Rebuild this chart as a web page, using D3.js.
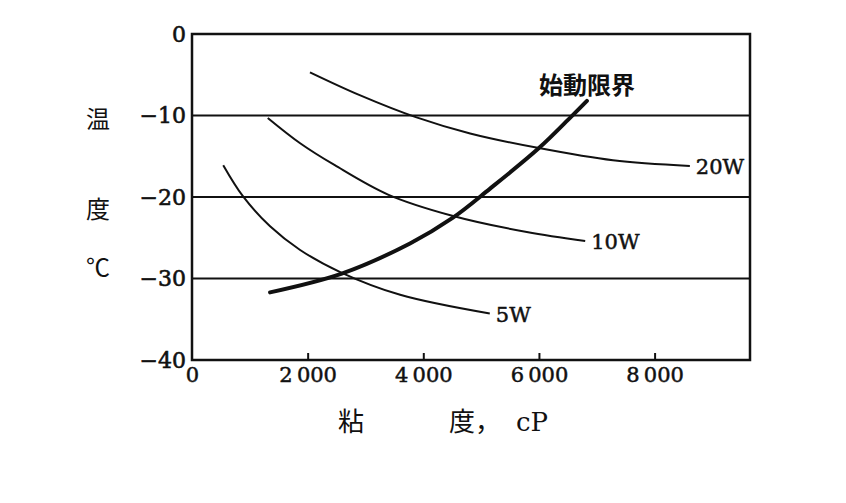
<!DOCTYPE html>
<html>
<head>
<meta charset="utf-8">
<script src="https://cdn.jsdelivr.net/npm/d3@7"></script>
<style>
  body { margin: 0; background: #fff; }
  svg { display: block; }
</style>
</head>
<body>
<div id="chart"></div>
<script>
const width = 846
const height = 503

// axis ticks
const xTicks = [0, 2000, 4000, 6000, 8000]
const yTicks = [0, -10, -20, -30, -40]
const gridTemps = [-10, -20, -30]

// oil grades: viscosity (cP) vs temperature (°C)
const seriesNames = ['20W', '10W', '5W']
const visc20W = [2040, 2900, 3870, 4810, 6000, 7280, 8610]
const temp20W = [-4.7, -7.5, -10.2, -12.2, -14.0, -15.5, -16.2]
const visc10W = [1310, 1870, 2470, 3390, 4500, 5790, 6800]
const temp10W = [-10.3, -13.4, -16.1, -19.7, -22.3, -24.3, -25.4]
const visc5W = [540, 880, 1350, 1870, 2590, 3600, 5150]
const temp5W = [-16.1, -19.9, -23.6, -26.5, -29.3, -32.0, -34.3]

// starting limit
const viscLimit = [1350, 2590, 3770, 4500, 5150, 6000, 6550, 6830]
const tempLimit = [-31.7, -29.4, -25.7, -22.6, -19.0, -14.0, -10.2, -8.2]
const limitLabel = '始動限界'

const x = d3.scaleLinear().domain([0, 9650]).range([192, 750])
const y = d3.scaleLinear().domain([0, -40]).range([34, 360])

const svg = d3.select('#chart')
  .append('svg')
  .attr('width', width)
  .attr('height', height)

const ink = '#111'
const numFont = '"DejaVu Serif", serif'
const jpFont = '"Noto Sans CJK JP", sans-serif'

// grid lines
svg.append('g')
  .selectAll('line')
  .data(gridTemps)
  .join('line')
  .attr('x1', x(0))
  .attr('x2', x.range()[1])
  .attr('y1', d => y(d))
  .attr('y2', d => y(d))
  .attr('stroke', ink)
  .attr('stroke-width', 2)

// frame
svg.append('rect')
  .attr('x', x(0))
  .attr('y', y(0))
  .attr('width', x.range()[1] - x(0))
  .attr('height', y(-40) - y(0))
  .attr('fill', 'none')
  .attr('stroke', ink)
  .attr('stroke-width', 2.5)

// x axis
const xAxis = d3.axisBottom(x)
  .tickValues(xTicks)
  .tickSizeInner(-7)
  .tickSizeOuter(0)
  .tickPadding(7)
  .tickFormat(d => d === 0 ? '0' : d3.format(',')(d).replace(',', '\u2009'))

const gx = svg.append('g')
  .attr('transform', `translate(0,${y(-40)})`)
  .call(xAxis)
gx.select('.domain').remove()
gx.selectAll('line').attr('stroke', ink).attr('stroke-width', 2)
  .filter(d => d === 0).remove()
gx.selectAll('text')
  .attr('font-family', numFont)
  .attr('font-size', 21)
  .attr('fill', ink)
  .attr('stroke', ink)
  .attr('stroke-width', 0.5)

// y axis
const yAxis = d3.axisLeft(y)
  .tickValues(yTicks)
  .tickSize(0)
  .tickPadding(6)
  .tickFormat(d => d === 0 ? '0' : '\u2212' + Math.abs(d))

const gy = svg.append('g')
  .attr('transform', `translate(${x(0)},0)`)
  .call(yAxis)
gy.select('.domain').remove()
gy.selectAll('text')
  .attr('font-family', numFont)
  .attr('font-size', 22)
  .attr('fill', ink)
  .attr('stroke', ink)
  .attr('stroke-width', 0.6)

// curves
const line = d3.line()
  .x(d => x(d[0]))
  .y(d => y(d[1]))
  .curve(d3.curveCatmullRom.alpha(0.5))

const grades = [
  { name: seriesNames[0], visc: visc20W, temp: temp20W },
  { name: seriesNames[1], visc: visc10W, temp: temp10W },
  { name: seriesNames[2], visc: visc5W, temp: temp5W }
]

grades.forEach(g => {
  const pts = d3.zip(g.visc, g.temp)
  svg.append('path')
    .attr('d', line(pts))
    .attr('fill', 'none')
    .attr('stroke', ink)
    .attr('stroke-width', 2)
  const last = pts[pts.length - 1]
  svg.append('text')
    .attr('x', x(last[0]) + 6)
    .attr('y', y(last[1]) + 8)
    .attr('font-family', numFont)
    .attr('font-size', 21)
    .attr('fill', ink)
    .attr('stroke', ink)
    .attr('stroke-width', 0.5)
    .text(g.name)
})

const limitPts = d3.zip(viscLimit, tempLimit)
svg.append('path')
  .attr('d', line(limitPts))
  .attr('fill', 'none')
  .attr('stroke', ink)
  .attr('stroke-width', 4)
  .attr('stroke-linecap', 'round')

const limitEnd = limitPts[limitPts.length - 1]
svg.append('text')
  .attr('x', x(limitEnd[0]))
  .attr('y', y(limitEnd[1]) - 7)
  .attr('text-anchor', 'middle')
  .attr('font-family', jpFont)
  .attr('font-size', 24)
  .attr('font-weight', 700)
  .attr('fill', ink)
  .text(limitLabel)

// axis titles
const yTitle = [['温', 120], ['度', 210], ['℃', 268]]
svg.append('g')
  .selectAll('text')
  .data(yTitle)
  .join('text')
  .attr('x', 98)
  .attr('y', d => d[1])
  .attr('dy', '0.35em')
  .attr('text-anchor', 'middle')
  .attr('font-family', jpFont)
  .attr('font-size', 24)
  .attr('fill', ink)
  .text(d => d[0])

svg.append('text')
  .attr('x', 351)
  .attr('y', 431)
  .attr('text-anchor', 'middle')
  .attr('font-family', jpFont)
  .attr('font-size', 26)
  .attr('fill', ink)
  .text('粘')

const xt = svg.append('text')
  .attr('y', 431)
  .attr('font-size', 26)
  .attr('fill', ink)
xt.append('tspan')
  .attr('x', 449)
  .attr('font-family', jpFont)
  .text('度，')
xt.append('tspan')
  .attr('x', 516)
  .attr('font-family', numFont)
  .text('cP')
</script>
</body>
</html>
